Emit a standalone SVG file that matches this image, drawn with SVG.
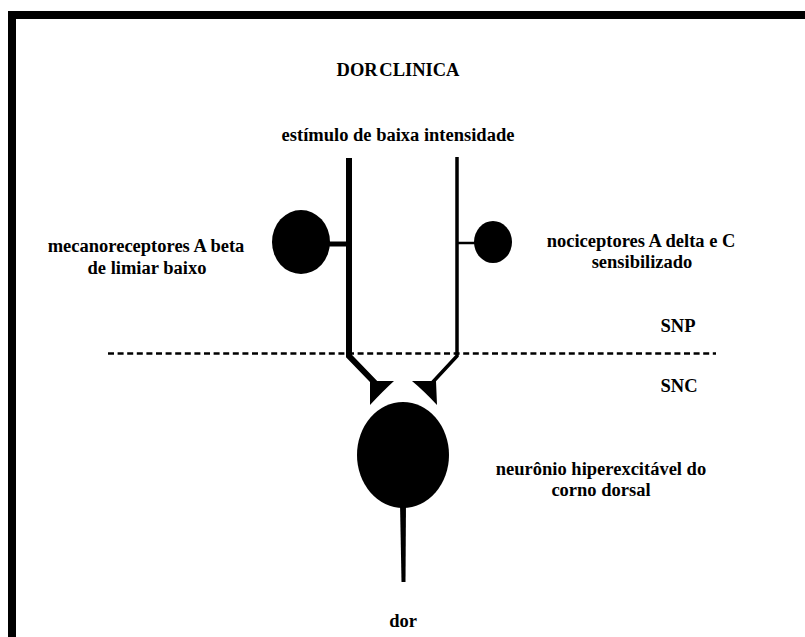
<svg xmlns="http://www.w3.org/2000/svg" width="805" height="637" viewBox="0 0 805 637">
<defs>
<style>
.t{font-family:'Liberation Serif','Times New Roman',serif;font-weight:bold;font-size:18.5px;fill:#000;text-anchor:middle}
.fill{fill:#000}
.line{stroke:#000;fill:none;stroke-linejoin:miter}
</style>
</defs>
<rect width="805" height="637" fill="#fff"/>
<g id="frame">
<rect x="8" y="11" width="797" height="8" class="fill"/>
<rect x="8" y="11" width="8" height="626" class="fill"/>
</g>
<g id="title"><text class="t" x="398" y="76" word-spacing="-3">DOR CLINICA</text></g>
<g id="stimulus"><text class="t" x="398" y="141">estímulo de baixa intensidade</text></g>
<g id="boundary">
<line x1="108" y1="353.5" x2="716" y2="353.5" stroke="#000" stroke-width="2.5" stroke-dasharray="6 3.6"/>
<text class="t" x="678" y="332">SNP</text>
<text class="t" x="679" y="392">SNC</text>
</g>
<g id="connectors">
<polyline class="line" stroke-width="6" points="349,158 349,356 376,384"/>
<polyline class="line" stroke-width="3.5" points="457,157 457,356 431,384"/>
<line x1="328" y1="244" x2="349" y2="244" stroke="#000" stroke-width="5"/>
<line x1="457" y1="243" x2="477" y2="243" stroke="#000" stroke-width="2.5"/>
<path class="fill" d="M370,381 L394,381 Q383,391 370,405 Z"/>
<path class="fill" d="M412,381 L436,381 L437,405 Q424,391 412,381 Z"/>
<path class="fill" d="M400,503 L406,503 L405.5,582 L401.5,582 Z"/>
</g>
<g id="mecanoreceptor">
<ellipse cx="301" cy="242" rx="29" ry="32" class="fill"/>
<text class="t" x="146" y="252">mecanoreceptores A beta</text>
<text class="t" x="147" y="274">de limiar baixo</text>
</g>
<g id="nociceptor">
<ellipse cx="493" cy="242" rx="19" ry="21" class="fill"/>
<text class="t" x="641" y="247">nociceptores A delta e C</text>
<text class="t" x="642" y="268">sensibilizado</text>
</g>
<g id="neuron">
<ellipse cx="403" cy="455" rx="46" ry="53" class="fill"/>
<text class="t" x="601" y="475">neurônio hiperexcitável do</text>
<text class="t" x="601" y="496">corno dorsal</text>
</g>
<g id="pain"><text class="t" x="403" y="627">dor</text></g>
</svg>
